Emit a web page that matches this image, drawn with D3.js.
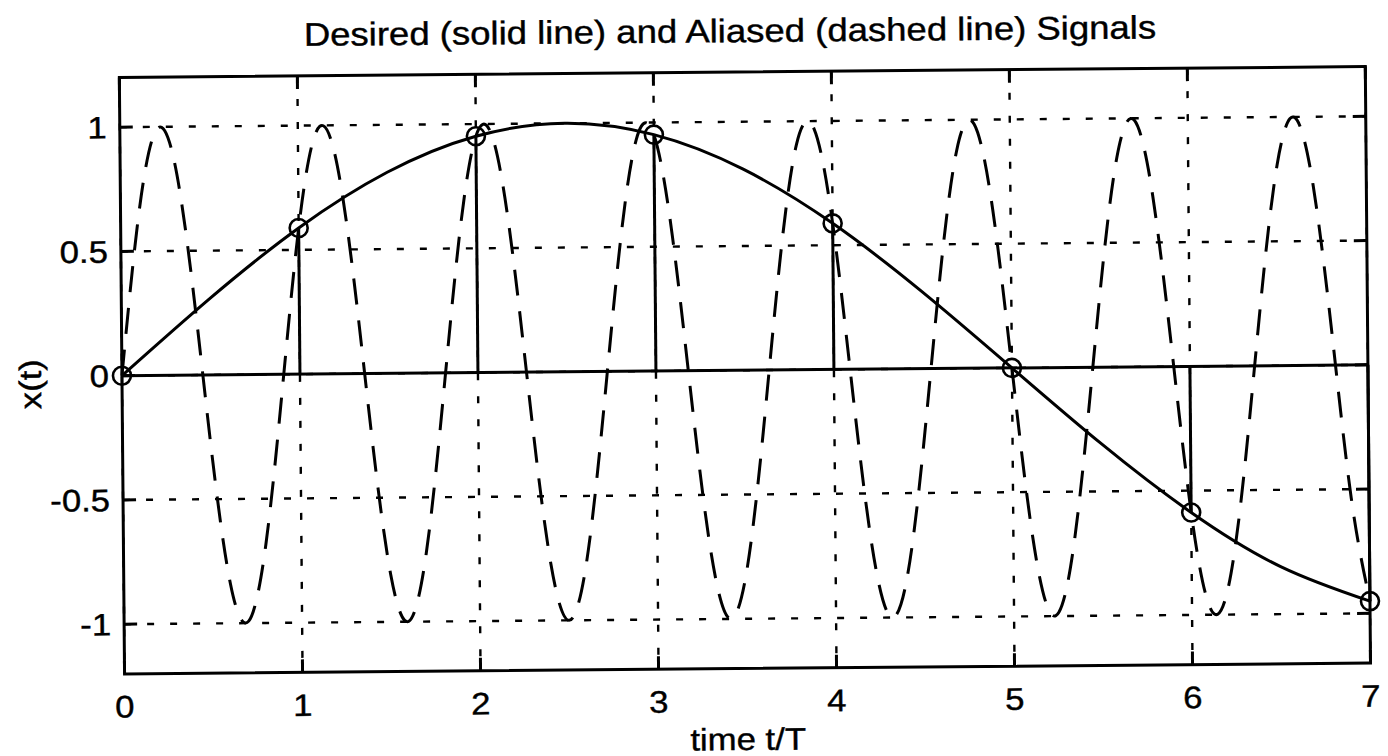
<html>
<head>
<meta http-equiv="Content-Type" content="text/html; charset=UTF-8" />
<script src="https://d3js.org/d3.v7.min.js"></script>
<style>
  body { margin: 0; background: #fff; }
  text { font-family: "Liberation Sans", Arial, sans-serif; fill: #000; stroke: #000; stroke-width: 0.4px; }
</style>
</head>
<body>
<div id="chart"></div>
<script type="text/javascript">
// ticks
var xTicks = [0, 1, 2, 3, 4, 5, 6, 7];
var yTicks = [-1, -0.5, 0, 0.5, 1];
var yTickLabels = ["-1", "-0.5", "0", "0.5", "1"];

// samples (circles + stems)
var sampleT = [0, 1, 2, 3, 4, 5, 6, 7];
var sampleX = [0, 0.588, 0.951, 0.951, 0.588, 0, -0.588, -0.951];

// desired signal (solid)
var desiredT = [0, 0.5, 1, 1.5, 2, 2.5, 3, 3.5, 4, 4.5, 5, 5.5, 6, 6.5, 7];
var desiredX = [0, 0.309, 0.588, 0.809, 0.951, 1.0, 0.951, 0.809, 0.588, 0.309, 0, -0.309, -0.588, -0.809, -0.951];

// aliased signal (dashed), read every 0.1
var aliasT = [0,0.1,0.2,0.3,0.4,0.5,0.6,0.7,0.8,0.9,
  1,1.1,1.2,1.3,1.4,1.5,1.6,1.7,1.8,1.9,
  2,2.1,2.2,2.3,2.4,2.5,2.6,2.7,2.8,2.9,
  3,3.1,3.2,3.3,3.4,3.5,3.6,3.7,3.8,3.9,
  4,4.1,4.2,4.3,4.4,4.5,4.6,4.7,4.8,4.9,
  5,5.1,5.2,5.3,5.4,5.5,5.6,5.7,5.8,5.9,
  6,6.1,6.2,6.3,6.4,6.5,6.6,6.7,6.8,6.9,7];
var aliasX = [0,0.637,0.982,0.876,0.368,-0.309,-0.844,-0.992,-0.685,-0.063,
  0.588,0.969,0.905,0.426,-0.249,-0.809,-0.998,-0.729,-0.125,0.536,
  0.951,0.930,0.482,-0.187,-0.771,-1.0,-0.771,-0.187,0.482,0.930,
  0.951,0.536,-0.125,-0.729,-0.998,-0.809,-0.249,0.426,0.905,0.969,
  0.588,-0.063,-0.685,-0.992,-0.844,-0.309,0.368,0.876,0.982,0.637,
  0,-0.637,-0.982,-0.876,-0.368,0.309,0.844,0.992,0.685,0.063,
  -0.588,-0.969,-0.905,-0.426,0.249,0.809,0.998,0.729,0.125,-0.536,-0.951];

var W = 1388, H = 756;
var pL = 122, pR = 1368, pT = 72, pB = 668.5;
var SX = 1.12; // scanned text is a bit wide

var x = d3.scaleLinear().domain([0, 7]).range([pL, pR]);
var y = d3.scaleLinear().domain([-1.2, 1.2]).range([pB, pT]);

var svg = d3.select("#chart").append("svg")
  .attr("width", W).attr("height", H)
  .style("background-color", "#fff");

// the scan is tilted slightly
var g = svg.append("g").attr("transform", "rotate(-0.5, 745, 378)");

function label(px, py, str, anchor, size, rot) {
  var t = "translate(" + px + "," + py + ")" + (rot ? " rotate(" + rot + ")" : "") + " scale(" + SX + ",1)";
  g.append("text").attr("transform", t)
    .attr("text-anchor", anchor)
    .style("font-size", size + "px")
    .text(str);
}

// grid
g.selectAll(".gx").data(xTicks).enter().append("line")
  .attr("x1", d => x(d)).attr("x2", d => x(d))
  .attr("y1", pT).attr("y2", pB)
  .attr("stroke", "#000").attr("stroke-width", 2.4).attr("stroke-dasharray", "7,16");
g.selectAll(".gy").data(yTicks).enter().append("line")
  .attr("x1", pL).attr("x2", pR)
  .attr("y1", d => y(d)).attr("y2", d => y(d))
  .attr("stroke", "#000").attr("stroke-width", 2.4).attr("stroke-dasharray", "7,16");

// ticks, inward on all sides
var tl = 13;
xTicks.forEach(function (d) {
  g.append("line").attr("x1", x(d)).attr("x2", x(d)).attr("y1", pB).attr("y2", pB - tl)
    .attr("stroke", "#000").attr("stroke-width", 3);
  g.append("line").attr("x1", x(d)).attr("x2", x(d)).attr("y1", pT).attr("y2", pT + tl)
    .attr("stroke", "#000").attr("stroke-width", 3);
});
yTicks.forEach(function (d) {
  g.append("line").attr("x1", pL).attr("x2", pL + tl).attr("y1", y(d)).attr("y2", y(d))
    .attr("stroke", "#000").attr("stroke-width", 3);
  g.append("line").attr("x1", pR).attr("x2", pR - tl).attr("y1", y(d)).attr("y2", y(d))
    .attr("stroke", "#000").attr("stroke-width", 3);
});

// aliased signal
var aliasLine = d3.line().x(d => x(d[0])).y(d => y(d[1])).curve(d3.curveNatural);
g.append("path").datum(d3.zip(aliasT, aliasX))
  .attr("d", aliasLine)
  .attr("fill", "none").attr("stroke", "#000").attr("stroke-width", 3)
  .attr("stroke-dasharray", "26,16");

// desired signal
var desiredLine = d3.line().x(d => x(d[0])).y(d => y(d[1])).curve(d3.curveNatural);
g.append("path").datum(d3.zip(desiredT, desiredX))
  .attr("d", desiredLine)
  .attr("fill", "none").attr("stroke", "#000").attr("stroke-width", 3);

// stems
g.append("line").attr("x1", x(0)).attr("x2", x(7)).attr("y1", y(0)).attr("y2", y(0))
  .attr("stroke", "#000").attr("stroke-width", 3);
g.selectAll(".stem").data(d3.zip(sampleT, sampleX)).enter().append("line")
  .attr("x1", d => x(d[0])).attr("x2", d => x(d[0]))
  .attr("y1", y(0)).attr("y2", d => y(d[1]))
  .attr("stroke", "#000").attr("stroke-width", 3);
g.selectAll(".mark").data(d3.zip(sampleT, sampleX)).enter().append("circle")
  .attr("cx", d => x(d[0])).attr("cy", d => y(d[1])).attr("r", 9)
  .attr("fill", "none").attr("stroke", "#000").attr("stroke-width", 2.6);

// frame
g.append("rect").attr("x", pL).attr("y", pT)
  .attr("width", pR - pL).attr("height", pB - pT)
  .attr("fill", "none").attr("stroke", "#000").attr("stroke-width", 3);

// labels
xTicks.forEach(function (d) { label(x(d), 712, String(d), "middle", 31); });
yTicks.forEach(function (d, i) { label(109, y(d) + 11, yTickLabels[i], "end", 31); });
label(733, 42, "Desired (solid line) and Aliased (dashed line) Signals", "middle", 32.6);
label(745, 750, "time t/T", "middle", 31);
label(41, 378, "x(t)", "middle", 31, -90);
</script>
</body>
</html>
